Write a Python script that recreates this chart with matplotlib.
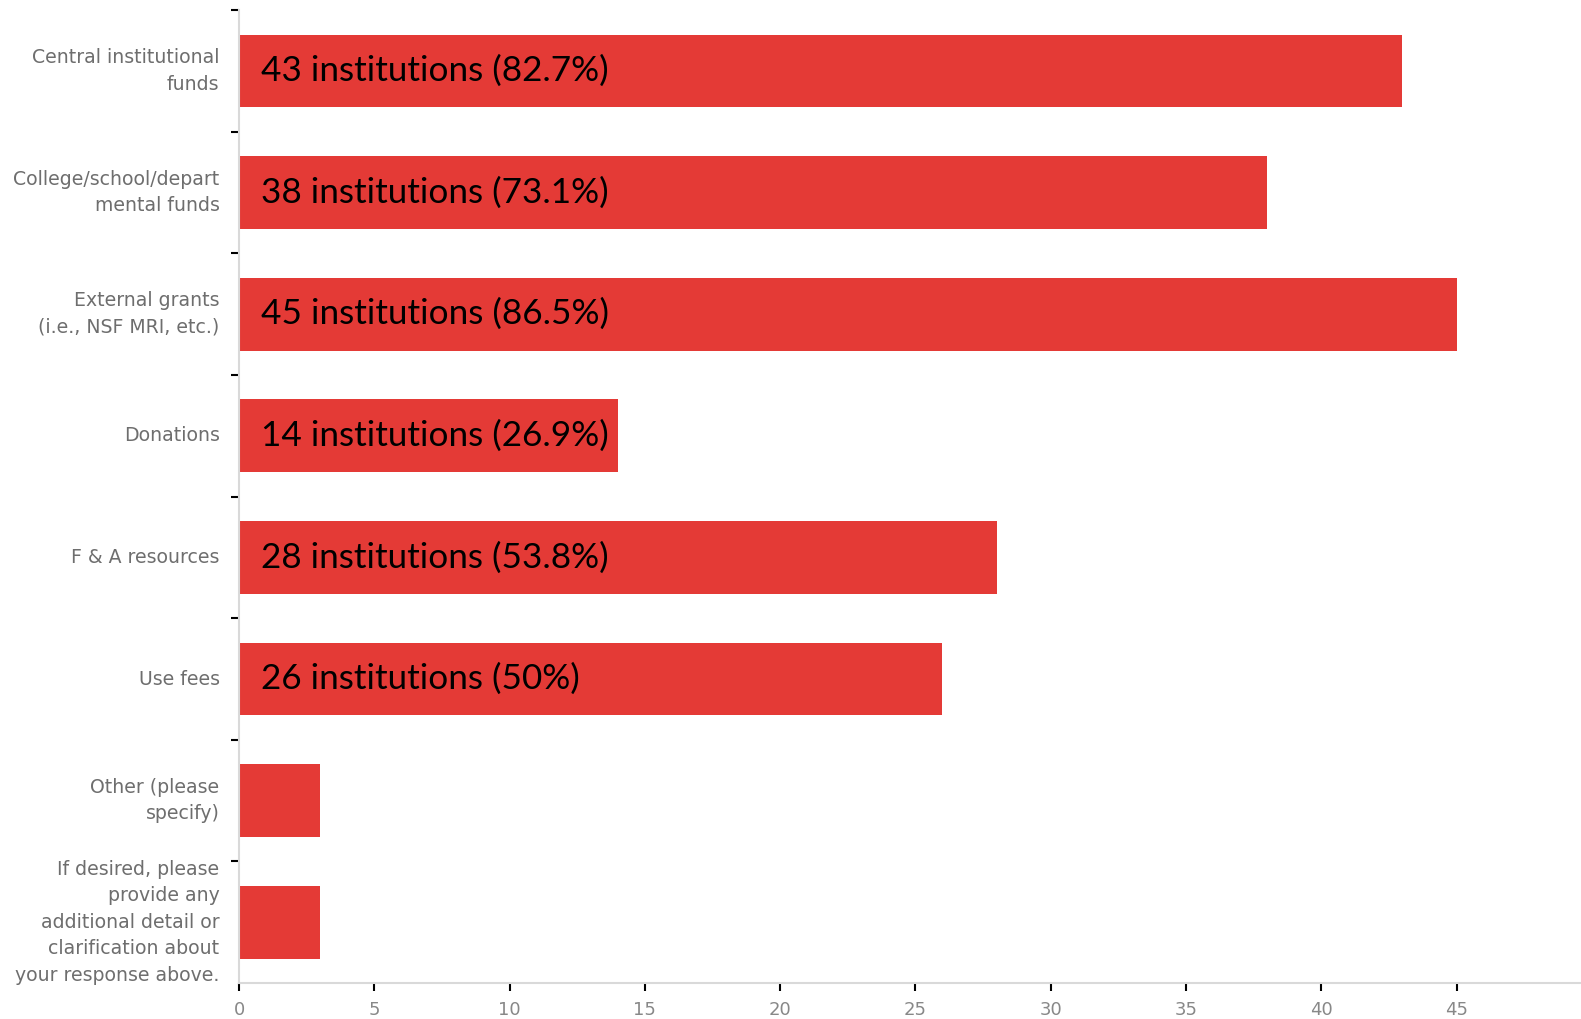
import matplotlib
matplotlib.use("Agg")
import matplotlib.pyplot as plt
import numpy as np

categories = [
    "Central institutional\nfunds",
    "College/school/depart\nmental funds",
    "External grants\n(i.e., NSF MRI, etc.)",
    "Donations",
    "F & A resources",
    "Use fees",
    "Other (please\nspecify)",
    "If desired, please\nprovide any\nadditional detail or\nclarification about\nyour response above.",
]
counts = [43, 38, 45, 14, 28, 26, 3, 3]
bar_labels = [
    "43 institutions (82.7%)",
    "38 institutions (73.1%)",
    "45 institutions (86.5%)",
    "14 institutions (26.9%)",
    "28 institutions (53.8%)",
    "26 institutions (50%)",
    "",
    "",
]
xticks = [0, 5, 10, 15, 20, 25, 30, 35, 40, 45]

fig = plt.figure(figsize=(15.81, 10.19), dpi=100)
ax = fig.add_axes([0.1512, 0.0353, 0.8488, 0.9547])

y = np.arange(len(categories))
ax.barh(y, counts, height=0.6, color="#E43A36", edgecolor="none", zorder=2)

for yi, c, lab in zip(y, counts, bar_labels):
    if lab:
        ax.annotate(lab, xy=(0, yi), xytext=(16, 0), textcoords="offset points",
                    va="center", ha="left", fontsize=25.3, family="Lato", color="black")

ax.set_xlim(0, 49.6)
ax.set_ylim(len(categories) - 0.5, -0.5)

ax.set_yticks(y)
ax.set_yticklabels(categories, fontsize=13.6, color="#6e6e6e", linespacing=1.5)
for t in ax.get_yticklabels():
    t.set_va("center")
ax.tick_params(axis="y", which="major", length=0, pad=14)
ax.set_yticks(np.arange(len(categories)) - 0.5, minor=True)
ax.tick_params(axis="y", which="minor", length=6, width=1.5, color="black", direction="out")

ax.set_xticks(xticks)
ax.set_xticklabels([str(t) for t in xticks], fontsize=13, color="#888888")
ax.tick_params(axis="x", length=6, width=1.5, color="black", direction="out", pad=7)

for s in ["top", "right"]:
    ax.spines[s].set_visible(False)
for s in ["left", "bottom"]:
    ax.spines[s].set_color("#d9d9d9")
    ax.spines[s].set_linewidth(1.5)

fig.savefig("out.png", dpi=100)
